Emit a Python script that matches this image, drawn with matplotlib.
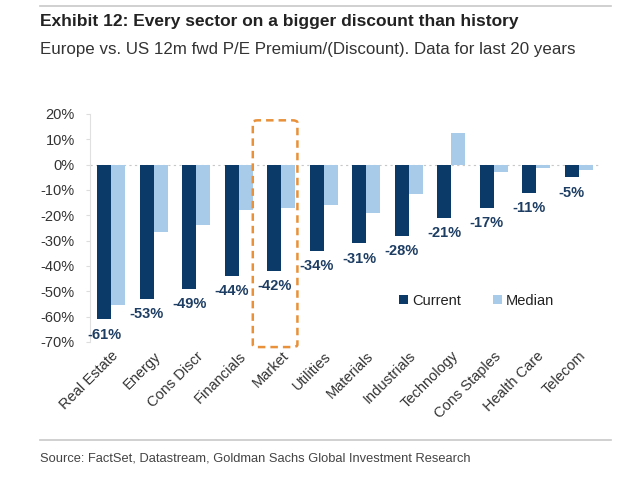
import matplotlib.pyplot as plt
from matplotlib.patches import FancyBboxPatch
from matplotlib.lines import Line2D

sectors = ["Real Estate", "Energy", "Cons Discr", "Financials", "Market", "Utilities",
           "Materials", "Industrials", "Technology", "Cons Staples", "Health Care", "Telecom"]
current = [-61, -53, -49, -44, -42, -34, -31, -28, -21, -17, -11, -5]
median = [-55.5, -26.5, -24, -18, -17, -16, -19, -11.5, 12.5, -2.8, -1.3, -2]
yticks = [20, 10, 0, -10, -20, -30, -40, -50, -60, -70]

navy = "#0c3a68"
light = "#a8cbea"
sans = ["Liberation Sans", "DejaVu Sans"]

fig = plt.figure(figsize=(6.4, 4.84), dpi=100)
ax = fig.add_axes([0.1406, 0.2934, 0.797, 0.4711])

x = list(range(len(sectors)))
w = 0.33
ax.bar([i - w / 2 for i in x], current, width=w, color=navy, label="Current")
ax.bar([i + w / 2 for i in x], median, width=w, color=light, label="Median")

for i, v in zip(x, current):
    ax.text(i - w / 2, v - 3.3, f"{v}%", ha="center", va="top", fontsize=10.5,
            fontweight="bold", color="#1d3d63", family=sans)

ax.axhline(0, color="#c8c8c8", lw=0.8, ls=(0, (2, 3)), zorder=0)
ax.set_xlim(-0.5, 11.5)
ax.set_ylim(-70, 20)
ax.set_yticks(yticks)
ax.set_yticklabels([f"{t}%" for t in yticks], fontsize=10.5, color="#333333", family=sans)
ax.set_xticks(x)
ax.set_xticklabels(sectors, rotation=45, ha="right", rotation_mode="anchor", fontsize=10.5,
                   color="#333333", family=sans)
ax.tick_params(axis="x", length=0, pad=5)
ax.tick_params(axis="y", length=3, color="#dddddd", pad=8)
for s in ["top", "right", "bottom"]:
    ax.spines[s].set_visible(False)
ax.spines["left"].set_color("#e0e0e0")

# highlight box around Market
box = FancyBboxPatch((3.33, -72), 1.05, 89.5, boxstyle="round,pad=0,rounding_size=0.12",
                     mutation_aspect=8, fill=False, ec="#e8913a", lw=1.8, ls=(0, (3, 2)),
                     clip_on=False)
ax.add_patch(box)

leg = ax.legend(loc="upper left", bbox_to_anchor=(0.58, 0.27), ncol=2, frameon=False,
                handlelength=0.6, handleheight=0.6, columnspacing=2.2,
                handletextpad=0.3, prop={"family": sans, "size": 10.5})
for t in leg.get_texts():
    t.set_color("#222222")

fig.add_artist(Line2D([0.0625, 0.955], [0.988, 0.988], color="#c8c8c8", lw=1.2))
fig.add_artist(Line2D([0.0625, 0.955], [0.091, 0.091], color="#c8c8c8", lw=1.2))
fig.text(0.0625, 0.955, "Exhibit 12: Every sector on a bigger discount than history",
         fontsize=12.5, fontweight="bold", color="#222222", family=sans, va="center")
fig.text(0.0625, 0.897, "Europe vs. US 12m fwd P/E Premium/(Discount). Data for last 20 years",
         fontsize=12.2, color="#333333", family=sans, va="center")
fig.text(0.0625, 0.053, "Source: FactSet, Datastream, Goldman Sachs Global Investment Research",
         fontsize=9.3, color="#444444", family=sans, va="center")

fig.savefig("out.png", dpi=100, facecolor="white")
